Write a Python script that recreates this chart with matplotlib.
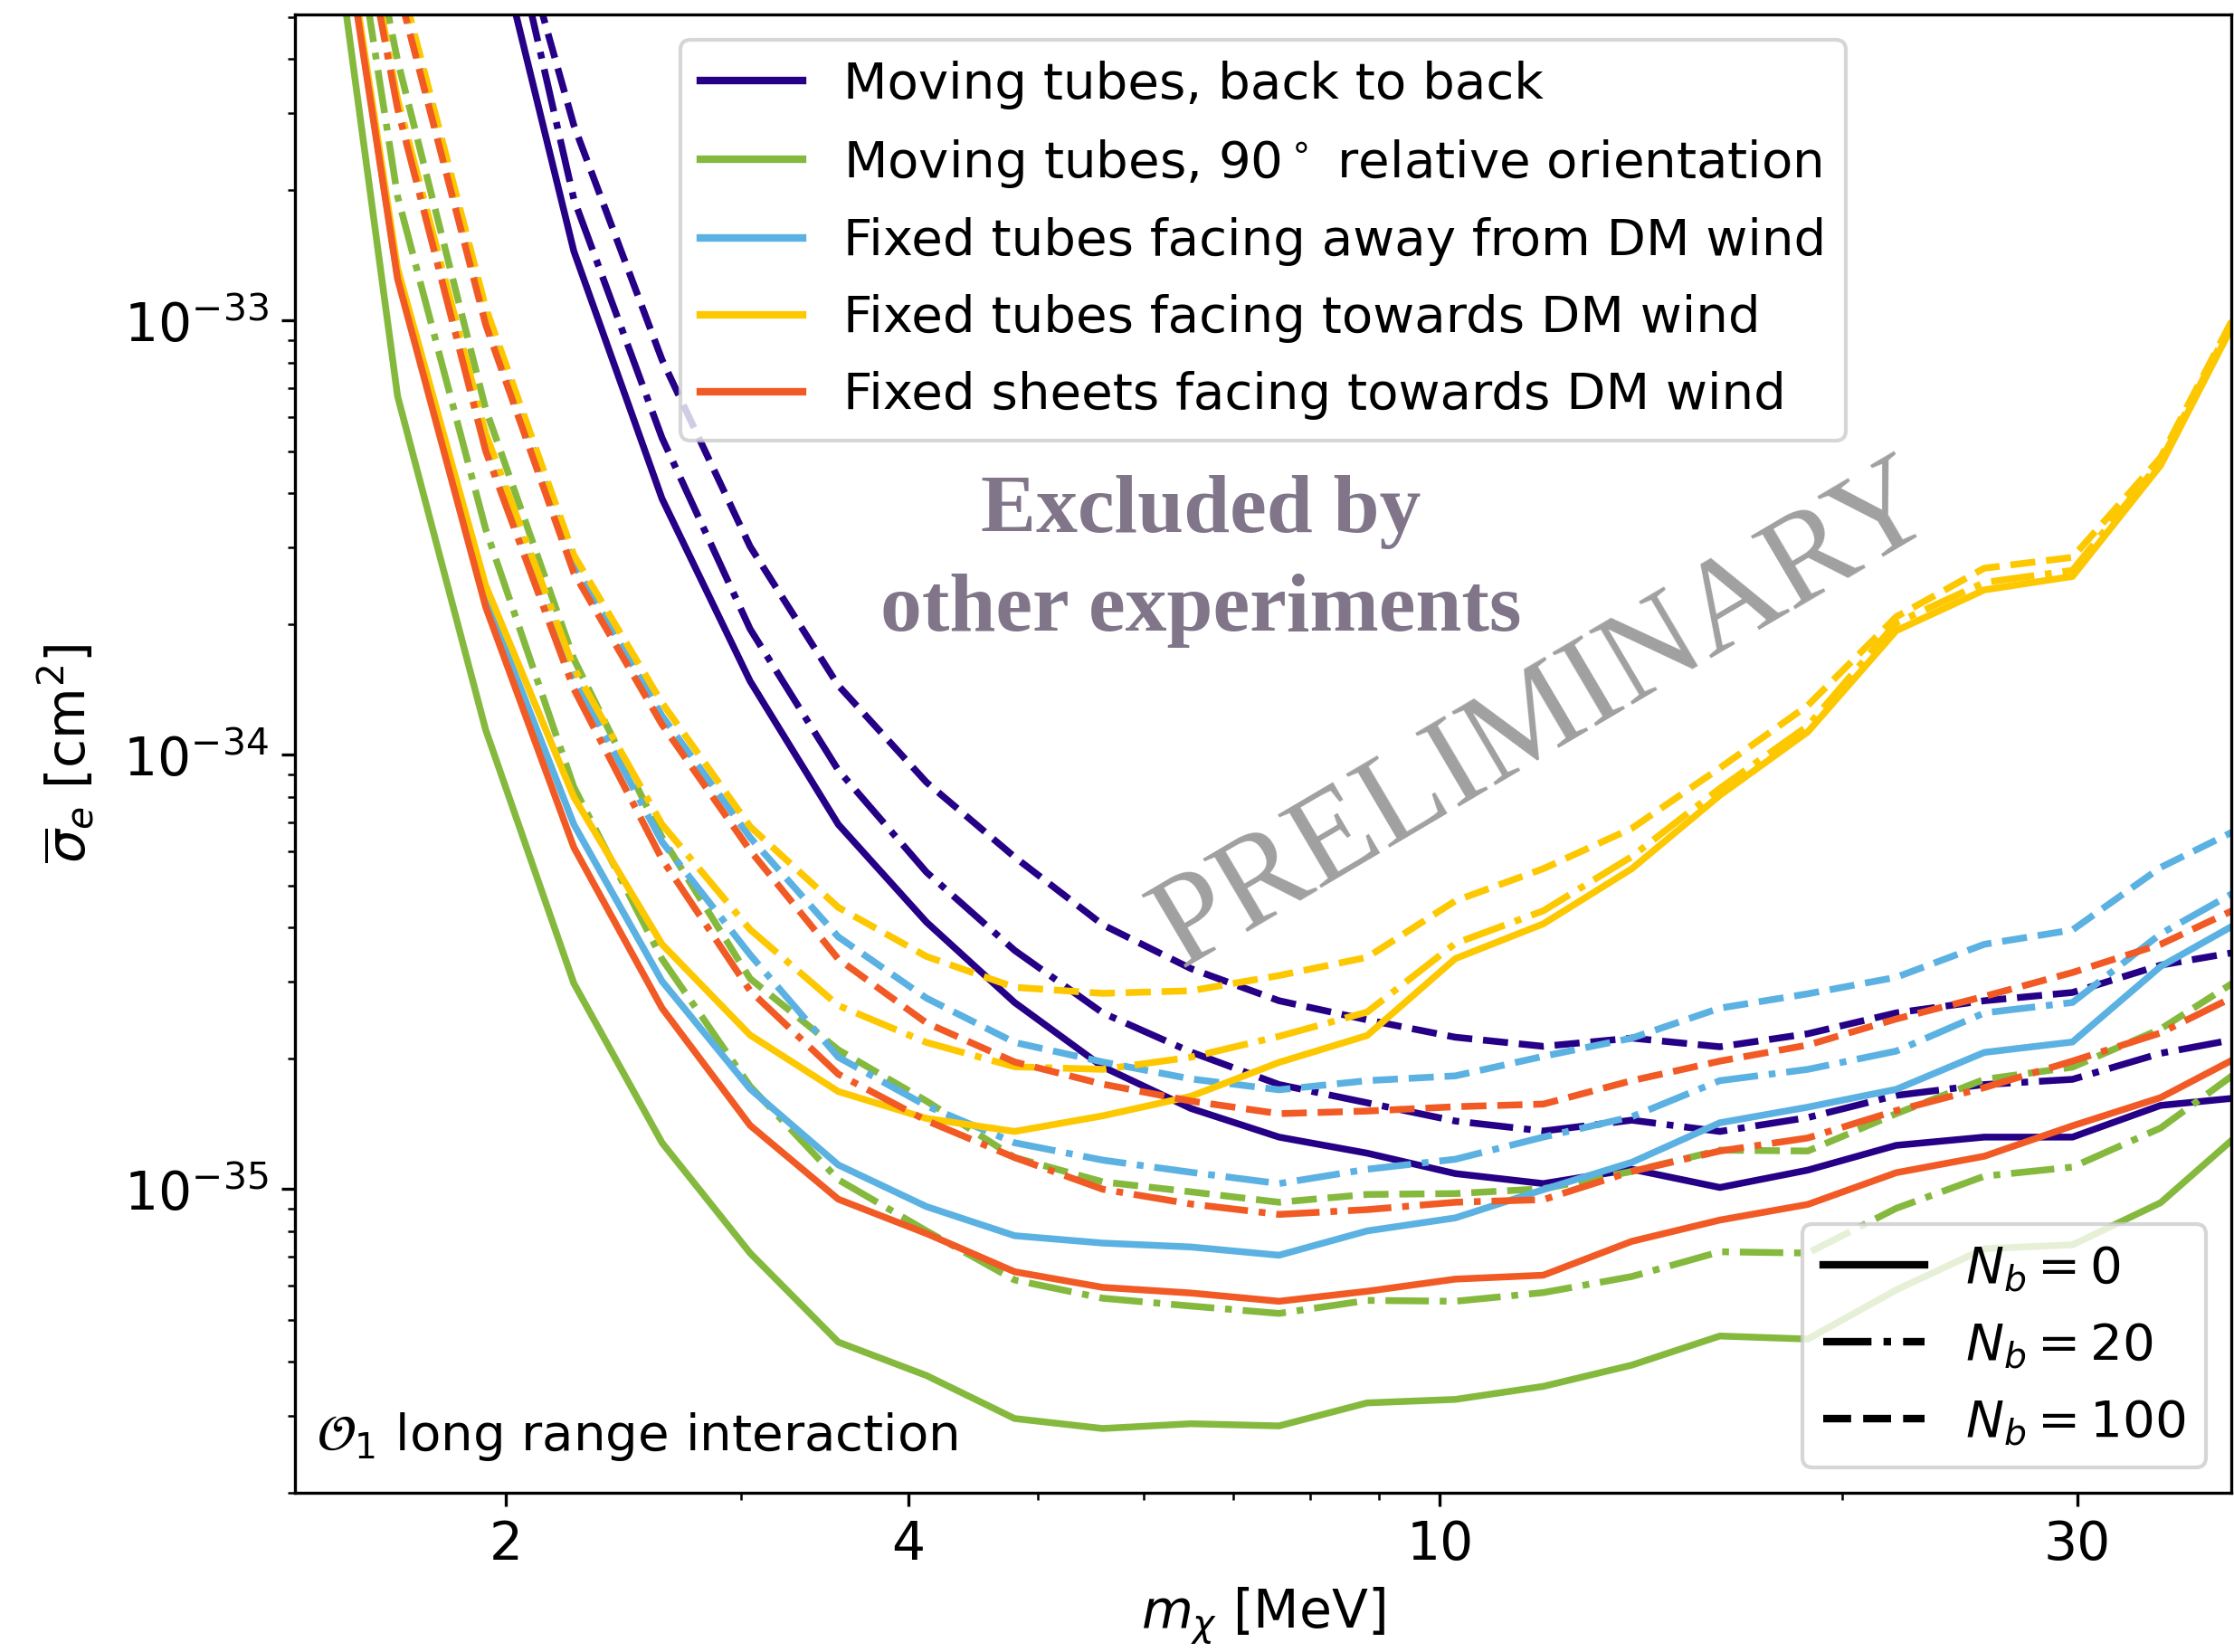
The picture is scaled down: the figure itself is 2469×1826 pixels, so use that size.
import numpy as np
import matplotlib.pyplot as plt
from matplotlib.lines import Line2D

# dark matter masses of the scan [MeV]
mass = [1.426, 1.660, 1.932, 2.249, 2.618, 3.047, 3.547, 4.129, 4.806, 5.594,
        6.512, 7.580, 8.823, 10.27, 11.95, 13.92, 16.20, 18.85, 21.95, 25.55,
        29.74, 34.62, 40.29]

# log10 of the reach in sigma_e [cm^2]
# moving tubes, back to back
mb_nb0 = [-30.4, -31.2, -32.01, -32.84, -33.41, -33.83, -34.16, -34.385, -34.57, -34.718,
          -34.814, -34.880, -34.917, -34.964, -34.987, -34.954, -34.996, -34.956, -34.899,
          -34.880, -34.880, -34.807, -34.787]
mb_nb20 = [-30.3, -31.0, -31.83, -32.72, -33.27, -33.71, -34.035, -34.27, -34.45, -34.594,
           -34.684, -34.759, -34.801, -34.843, -34.866, -34.841, -34.867, -34.835, -34.784,
           -34.759, -34.747, -34.687, -34.649]
mb_nb100 = [-30.3, -31.0, -31.83, -32.55, -33.09, -33.52, -33.84, -34.063, -34.235, -34.391,
            -34.492, -34.566, -34.610, -34.650, -34.671, -34.652, -34.672, -34.642, -34.594,
            -34.566, -34.547, -34.484, -34.449]
# moving tubes, 90 degrees
m90_nb0 = [-31.66, -33.174, -33.942, -34.526, -34.893, -35.147, -35.352, -35.429, -35.528,
           -35.551, -35.540, -35.545, -35.492, -35.484, -35.454, -35.405, -35.338, -35.345,
           -35.232, -35.137, -35.128, -35.031, -34.853]
m90_nb20 = [-31.41, -32.714, -33.48, -34.074, -34.470, -34.763, -34.978, -35.096, -35.209,
            -35.251, -35.269, -35.286, -35.256, -35.258, -35.238, -35.201, -35.144, -35.147,
            -35.044, -34.970, -34.949, -34.859, -34.711]
m90_nb100 = [-31.40, -32.401, -33.203, -33.779, -34.19, -34.515, -34.679, -34.797, -34.927,
             -34.983, -35.006, -35.030, -35.012, -35.010, -34.999, -34.959, -34.910, -34.912,
             -34.826, -34.747, -34.719, -34.631, -34.502]
# fixed tubes facing away
fa_nb0 = [-31.56, -32.90, -33.64, -34.160, -34.521, -34.769, -34.944, -35.040, -35.107,
          -35.124, -35.133, -35.152, -35.096, -35.066, -35.001, -34.938, -34.847, -34.811,
          -34.770, -34.685, -34.661, -34.487, -34.373]
fa_nb20 = [-31.42, -32.50, -33.28, -33.82, -34.20, -34.46, -34.696, -34.808, -34.893,
           -34.933, -34.961, -34.987, -34.954, -34.931, -34.880, -34.833, -34.750, -34.724,
           -34.682, -34.594, -34.570, -34.412, -34.298]
fa_nb100 = [-31.38, -32.21, -32.99, -33.56, -33.91, -34.19, -34.419, -34.560, -34.662,
            -34.707, -34.746, -34.771, -34.750, -34.739, -34.694, -34.652, -34.583, -34.550,
            -34.512, -34.436, -34.403, -34.259, -34.159]
# fixed tubes facing towards
ft_nb0 = [-31.55, -32.88, -33.61, -34.097, -34.436, -34.645, -34.775, -34.837, -34.867,
          -34.831, -34.786, -34.708, -34.646, -34.469, -34.389, -34.262, -34.093, -33.947,
          -33.714, -33.620, -33.589, -33.333, -32.939]
ft_nb20 = [-31.41, -32.49, -33.26, -33.80, -34.16, -34.402, -34.577, -34.662, -34.718,
           -34.724, -34.696, -34.648, -34.592, -34.434, -34.359, -34.234, -34.077, -33.933,
           -33.696, -33.603, -33.575, -33.324, -32.93]
ft_nb100 = [-31.36, -32.19, -32.97, -33.54, -33.88, -34.165, -34.351, -34.464, -34.535,
            -34.549, -34.543, -34.508, -34.466, -34.336, -34.262, -34.169, -34.030, -33.886,
            -33.682, -33.570, -33.545, -33.315, -32.926]
# fixed sheets facing towards
fs_nb0 = [-31.57, -32.904, -33.659, -34.213, -34.583, -34.853, -35.023, -35.102, -35.190,
          -35.226, -35.239, -35.258, -35.235, -35.207, -35.198, -35.120, -35.071, -35.035,
          -34.962, -34.924, -34.854, -34.789, -34.683]
fs_nb20 = [-31.43, -32.512, -33.30, -33.848, -34.24, -34.543, -34.735, -34.842, -34.927,
           -35.000, -35.034, -35.058, -35.047, -35.030, -35.024, -34.959, -34.912, -34.882,
           -34.819, -34.766, -34.705, -34.640, -34.540]
fs_nb100 = [-31.40, -32.23, -33.009, -33.581, -33.93, -34.22, -34.470, -34.617, -34.707,
            -34.758, -34.797, -34.826, -34.820, -34.810, -34.804, -34.750, -34.705, -34.668,
            -34.608, -34.556, -34.501, -34.436, -34.341]

setups = [
    ("Moving tubes, back to back", '#250086', [mb_nb0, mb_nb20, mb_nb100]),
    ("Moving tubes, 90$^\\circ$ relative orientation", '#84b93e', [m90_nb0, m90_nb20, m90_nb100]),
    ("Fixed tubes facing away from DM wind", '#5ab1e2', [fa_nb0, fa_nb20, fa_nb100]),
    ("Fixed tubes facing towards DM wind", '#fdc800', [ft_nb0, ft_nb20, ft_nb100]),
    ("Fixed sheets facing towards DM wind", '#f15a24', [fs_nb0, fs_nb20, fs_nb100]),
]
nb_labels = ["$N_b = 0$", "$N_b = 20$", "$N_b = 100$"]
styles = ['-', '-.', '--']

fig = plt.figure(figsize=(2469 / 300, 1826 / 300), dpi=300)
ax = fig.add_axes([326 / 2469, 1 - 1650 / 1826, 2140 / 2469, 1634 / 1826])

lw = 1.8
for name, color, curves in setups:
    for curve, ls in zip(curves, styles):
        ax.plot(mass, 10.0 ** np.array(curve), color=color, ls=ls, lw=lw)

ax.set_xscale('log')
ax.set_yscale('log')
ax.set_xlim(1.391, 39.1)
ax.set_ylim(2.0e-36, 5.07e-33)
ax.set_xticks([2, 4, 10, 30])
ax.set_xticklabels(['2', '4', '10', '30'])
ax.tick_params(labelsize=14)
ax.set_xlabel(r"$m_\chi$ [MeV]", fontsize=14, labelpad=4)
ax.set_ylabel(r"$\overline{\sigma}_e$ [cm$^2$]", fontsize=14, labelpad=7)

color_handles = [Line2D([], [], color=c, lw=2.0) for _, c, _ in setups]
leg1 = ax.legend(color_handles, [n for n, _, _ in setups], loc='upper center',
                 fontsize=13.5, handlelength=2.0, labelspacing=0.55)
ax.add_artist(leg1)
style_handles = [Line2D([], [], color='k', ls=ls, lw=2.0) for ls in styles]
ax.legend(style_handles, nb_labels, loc='lower right', fontsize=13.5, handlelength=2.0,
          labelspacing=0.55)

ax.text(0.468, 0.630, "Excluded by\nother experiments", transform=ax.transAxes,
        ha='center', va='center', fontsize=22, fontweight='bold',
        family='Liberation Serif', color='#807589', linespacing=1.42)
ax.text(0.654, 0.506, "PRELIMINARY", transform=ax.transAxes, ha='center', va='baseline',
        rotation=30.5, rotation_mode='anchor', fontsize=34.5, family='Liberation Serif',
        color='#a0a0a0')
ax.text(0.011, 0.029, r"$\mathcal{O}_1$ long range interaction", transform=ax.transAxes,
        ha='left', va='baseline', fontsize=13.5)

fig.savefig("out.png", dpi=300)
